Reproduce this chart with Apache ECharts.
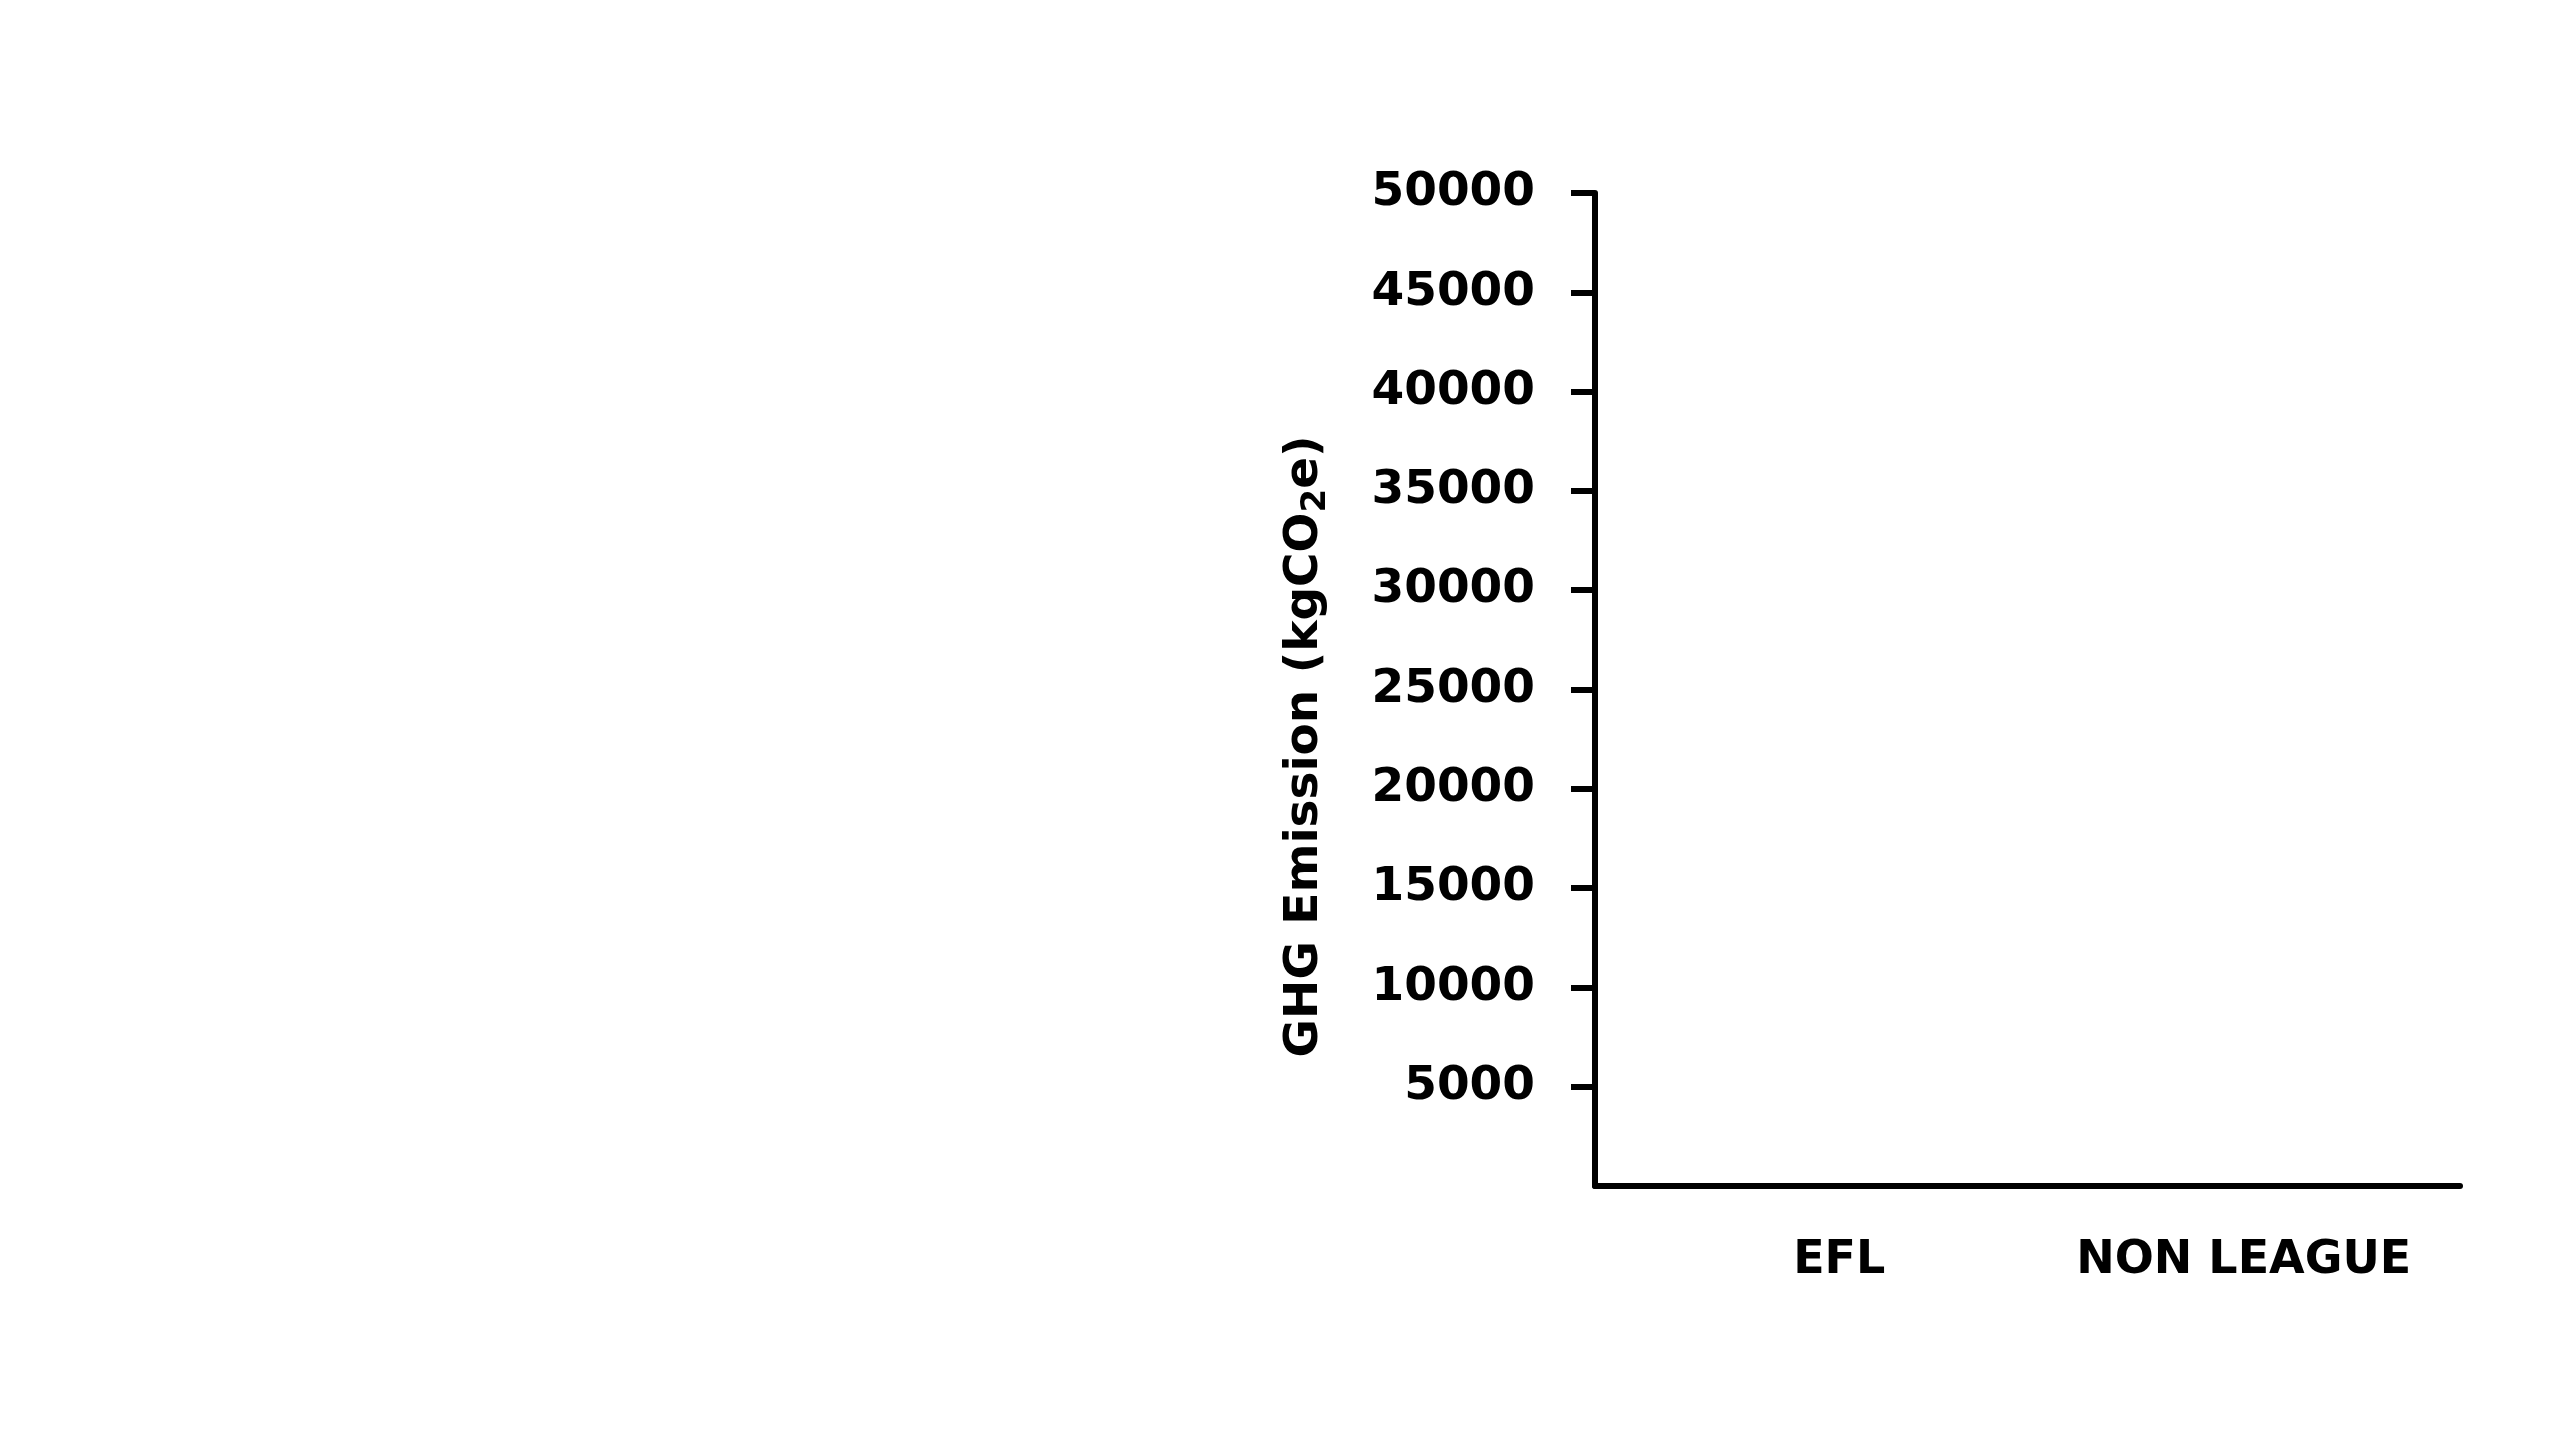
<!DOCTYPE html>
<html>
<head>
<meta charset="utf-8">
<script src="https://cdn.jsdelivr.net/npm/echarts@6/dist/echarts.min.js"></script>
<style>html,body{margin:0;padding:0;background:#fff}#c{width:2560px;height:1440px}</style>
</head>
<body>
<div id="c"></div>
<script>
const categories = ['EFL', 'NON LEAGUE'];
const emissions = [null, null]; // no bars are drawn in the reference
const yMin = 0, yMax = 50000, yStep = 5000;
const yTickValues = [5000, 10000, 15000, 20000, 25000, 30000, 35000, 40000, 45000, 50000];

const chart = echarts.init(document.getElementById('c'), null, {renderer: 'canvas'});
const font = '"DejaVu Sans", sans-serif';
const labelStyle = {color: '#000', fontFamily: font, fontWeight: 'bold', fontSize: 46};
chart.setOption({
  backgroundColor: '#ffffff',
  animation: false,
  grid: {left: 1595, right: 100, top: 193, bottom: 254, containLabel: false},
  xAxis: {
    type: 'category',
    data: categories,
    axisLine: {lineStyle: {color: '#000', width: 6}},
    axisTick: {show: false},
    axisLabel: {
      interval: 0,
      hideOverlap: false,
      color: '#000', fontFamily: font, fontWeight: 'bold', fontSize: 46, margin: 52,
      formatter: (v, i) => (i === 0 ? '{e|' + v + '}' : '{n|' + v + '}'),
      rich: {
        e: Object.assign({}, labelStyle, {padding: [0, 0, 0, 56]}),
        n: Object.assign({}, labelStyle)
      }
    },
    splitLine: {show: false}
  },
  yAxis: {
    type: 'value',
    min: yMin, max: yMax, interval: yStep,
    name: '{a|GHG Emission (kgCO}{s|2}{a|e)}',
    nameLocation: 'middle',
    nameGap: 262,
    nameRotate: 90,
    nameTextStyle: {
      color: '#000', fontFamily: font, fontWeight: 'bold', fontSize: 47,
      padding: [0, 114, 0, 0],
      rich: {
        a: {color: '#000', fontFamily: font, fontWeight: 'bold', fontSize: 47, lineHeight: 56, verticalAlign: 'middle'},
        s: {color: '#000', fontFamily: font, fontWeight: 'bold', fontSize: 34, lineHeight: 56, verticalAlign: 'bottom', padding: [22, 0, 0, 0]}
      }
    },
    axisLine: {show: true, lineStyle: {color: '#000', width: 6}},
    axisTick: {show: true, length: 24, customValues: yTickValues, lineStyle: {color: '#000', width: 6}},
    axisLabel: {
      color: '#000', fontFamily: font, fontWeight: 'bold', fontSize: 47, margin: 60,
      padding: [10, 0, 0, 0],
      customValues: yTickValues,
      formatter: v => String(v)
    },
    splitLine: {show: false}
  },
  series: [{type: 'bar', data: emissions}]
});
</script>
</body>
</html>
